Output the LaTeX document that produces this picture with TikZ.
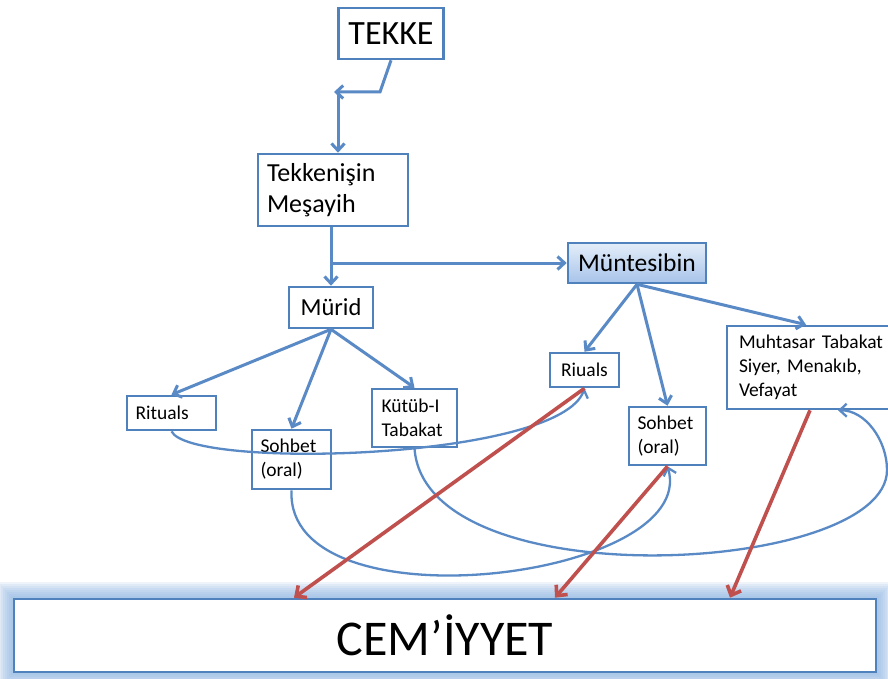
\documentclass[tikz,border=0pt]{standalone}
\usepackage{fontspec}
\setmainfont{Carlito}
\usetikzlibrary{arrows.meta,backgrounds}
\definecolor{boxblue}{HTML}{4F81BD}
\definecolor{linkblue}{HTML}{5A8AC6}
\definecolor{linkred}{HTML}{C0504D}
\definecolor{glowblue}{HTML}{8DB4E2}
\definecolor{shadetop}{HTML}{E3EDF9}
\definecolor{shadebot}{HTML}{A8C4EA}
\begin{document}
\begin{tikzpicture}[x=1pt,y=-1pt,
	box/.style={draw=boxblue, line width=2.6pt, fill=white, inner sep=0pt, font=\fontsize{19.5}{24}\selectfont},
	link/.style={draw=linkblue, line width=3pt, -{Straight Barb[length=7pt,width=13pt]}},
	backlink/.style={draw=linkblue, line width=2.3pt, -{Straight Barb[length=7pt,width=13pt]}},
	feed/.style={draw=linkred, line width=3.6pt, -{Straight Barb[length=8pt,width=15pt]}}]
	\useasboundingbox (0,0) rectangle (888,679);
	\node[box, font=\fontsize{34}{40}\selectfont, minimum width=105pt, minimum height=51pt] (tekke) at (391,33.5) {TEKKE};
	\node[box, font=\fontsize{26}{31}\selectfont, minimum width=150pt, minimum height=72pt, text width=132pt, align=left] (meshayih) at (333,190) {Tekkenişin\\Meşayih};
	\node[box, font=\fontsize{24.5}{28}\selectfont, minimum width=84pt, minimum height=41pt] (murid) at (331,307.5) {Mürid};
	\node[box, top color=shadetop, bottom color=shadebot, font=\fontsize{25.5}{28}\selectfont, minimum width=138pt, minimum height=40pt] (muntesibin) at (637,263) {Müntesibin};
	\node[box, minimum width=89pt, minimum height=34pt, text width=72pt, align=left] (rituals) at (171.5,413) {Rituals};
	\node[box, minimum width=79pt, minimum height=59pt, text width=62pt, align=left] (sohbetA) at (291.5,459.5) {Sohbet\\(oral)};
	\node[box, minimum width=85pt, minimum height=58pt, text width=66pt, align=left] (kutub) at (414.5,418) {Kütüb-I\\Tabakat};
	\node[box, minimum width=69pt, minimum height=34pt] (riuals) at (584.5,370) {Riuals};
	\node[box, minimum width=77pt, minimum height=58pt, text width=60pt, align=left] (sohbetB) at (667.5,436) {Sohbet\\(oral)};
	\node[box, minimum width=174pt, minimum height=83pt, text width=150pt, align=left] (muhtasar) at (814,367.5) {Muhtasar Tabakat\\Siyer, Menakıb,\\Vefayat};
	\node[box, font=\fontsize{50}{56}\selectfont, minimum width=862pt, minimum height=73pt] (cem) at (445,635.5) {CEM’İYYET};
	\begin{scope}[on background layer]
		\fill[white] (0,0) rectangle (888,679);
		\foreach \w in {4,8,...,32}
			\draw[glowblue, opacity=0.14, line width=\w pt] (cem.south west) rectangle (cem.north east);
	\end{scope}
	\coordinate (elbow) at (380,92);
	\coordinate (hook) at (334,92);
	\coordinate (drop) at (338,95);
	\coordinate (split) at (331,263);
	\draw[link] (tekke.south) -- (elbow) -- (hook);
	\draw[link] (drop) -- (drop |- meshayih.north);
	\draw[link] (murid.north |- meshayih.south) -- (murid.north);
	\draw[link] (split) -- (muntesibin.west);
	\foreach \child in {rituals,sohbetA,kutub}
		\draw[link] (murid.south) -- (\child.north);
	\foreach \child in {riuals,sohbetB}
		\draw[link] (muntesibin.south) -- (\child.north);
	\draw[link] (muntesibin.south) -- ([xshift=-8pt]muhtasar.north);
	\draw[backlink] (rituals.south) .. controls (190,470) and (560,460) .. (riuals.south);
	\draw[backlink] (sohbetA.south) .. controls (285,630) and (700,580) .. (sohbetB.south);
	\draw[backlink] (kutub.south) .. controls (425,600) and (887,575) .. (887,470) .. controls (887,440) and (865,410) .. ([xshift=24pt]muhtasar.south);
	\draw[feed] (riuals.south) -- ([xshift=-151pt]cem.north);
	\draw[feed] (sohbetB.south) -- ([xshift=110pt]cem.north);
	\draw[feed] ([xshift=-4pt]muhtasar.south) -- ([xshift=285pt]cem.north);
\end{tikzpicture}
\end{document}
